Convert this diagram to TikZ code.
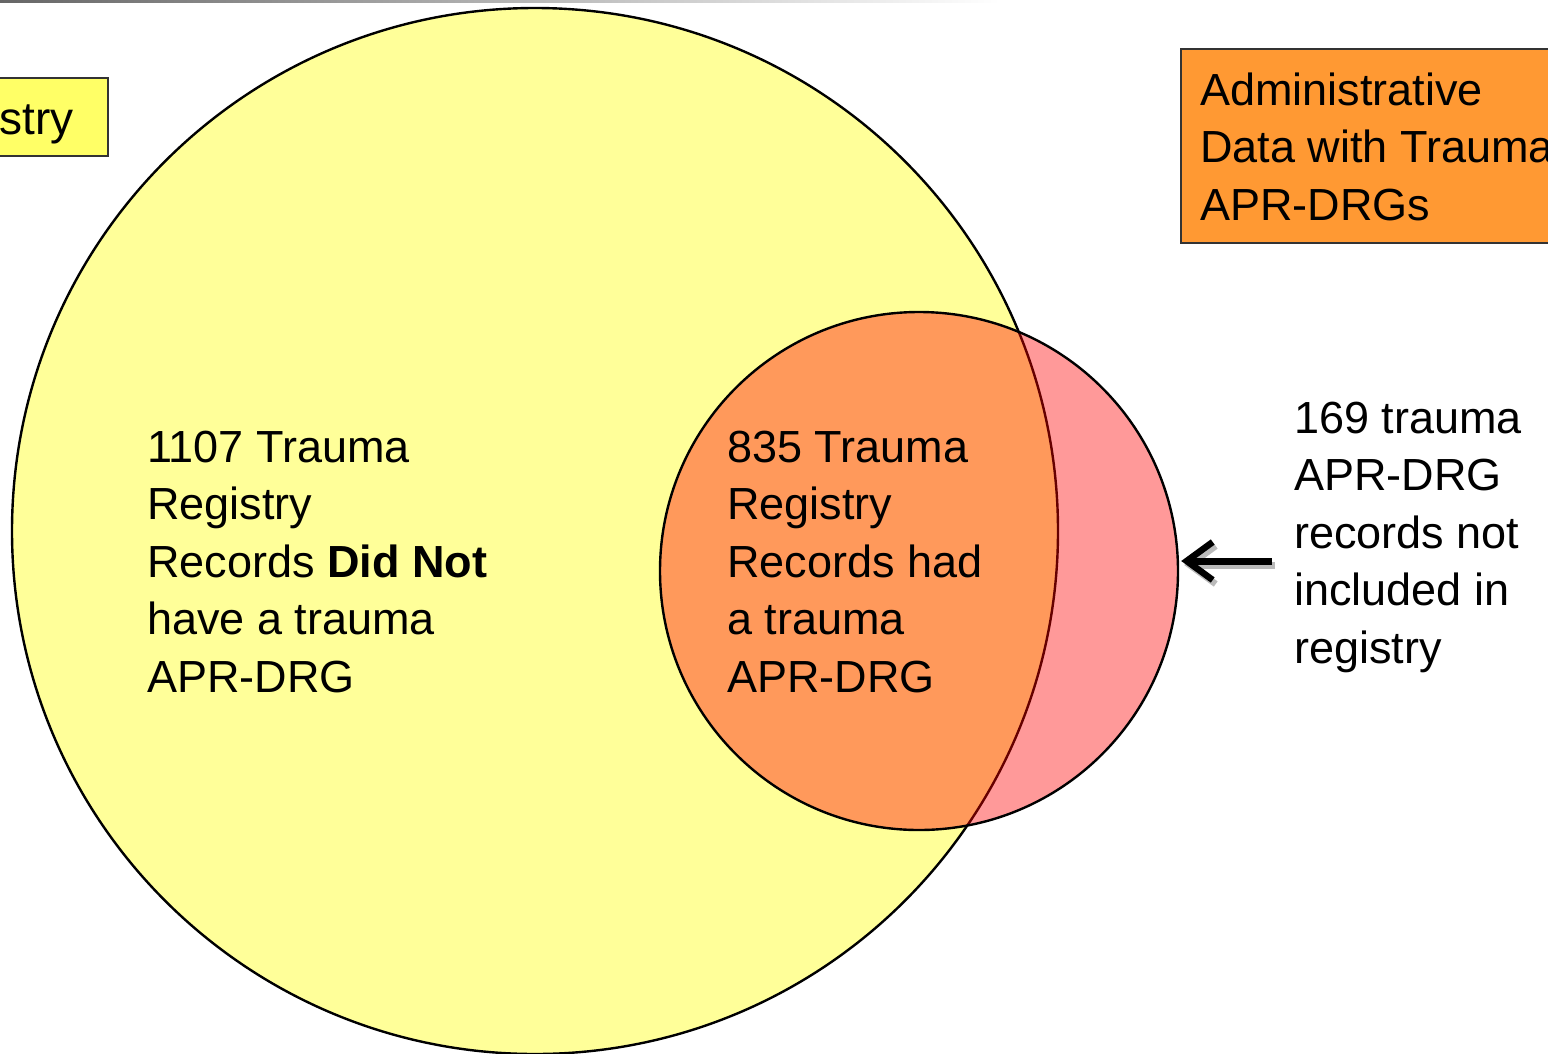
\documentclass[tikz,border=0pt]{standalone}
\usepackage{fontspec}
\setmainfont{Liberation Sans}
\usetikzlibrary{arrows.meta}
\definecolor{regyellow}{HTML}{FFFF99}
\definecolor{boxyellow}{HTML}{FFFF66}
\definecolor{boxorange}{HTML}{FF9933}
\begin{document}
\begin{tikzpicture}[x=1pt,y=-1pt,
  txt/.style={font=\fontsize{45}{57.5}\selectfont, align=left, inner sep=0pt, anchor=base west},
  setcircle/.style={circle, draw=black, line width=2.4pt, inner sep=0pt},
  legend/.style={draw=black!80, line width=1.5pt, inner sep=0pt, anchor=north west}]
\useasboundingbox (0,0) rectangle (1548,1053);
\clip (0,0) rectangle (1548,1053);
% faint rule at the top
\shade[left color=black!60, right color=white] (0,0) rectangle (1000,2);
% legend boxes
\node[legend, fill=boxyellow, minimum width=220pt, minimum height=78pt] (regbox) at (-113,77) {};
\node[font=\fontsize{46}{50}\selectfont, inner sep=0pt, anchor=base east] (regtxt) at (74,134) {stry};
\node[legend, fill=boxorange, minimum width=420pt, minimum height=194pt] (admbox) at (1180,48) {};
\node[txt] (admtxt) at (1200,220) {Administrative\\Data with Trauma\\APR-DRGs};
% circles
\node[setcircle, fill=regyellow, minimum size=1046pt] (reg) at (535,531) {};
\node[setcircle, fill=red, fill opacity=0.4, minimum size=518pt] (adm) at (919,571) {};
% texts
\node[txt] (t1) at (147,692) {1107 Trauma\\Registry\\Records \textbf{Did Not}\\have a trauma\\APR-DRG};
\node[txt] (t2) at (727,692) {835 Trauma\\Registry\\Records had\\a trauma\\APR-DRG};
\node[txt] (t3) at (1294,663) {169 trauma\\APR-DRG\\records not\\included in\\registry};
% arrow
\coordinate (astart) at (1272,561);
\draw[black!45, opacity=0.6, line width=7pt, -{Straight Barb[length=26pt,width=38pt,line width=6.5pt]}] ([shift={(3,4)}]astart) -- ([shift={(5,4)}]adm.east |- astart);
\draw[black, line width=7pt, -{Straight Barb[length=26pt,width=38pt,line width=6.5pt]}] (astart) -- ([xshift=2pt]adm.east |- astart);
\end{tikzpicture}
\end{document}
